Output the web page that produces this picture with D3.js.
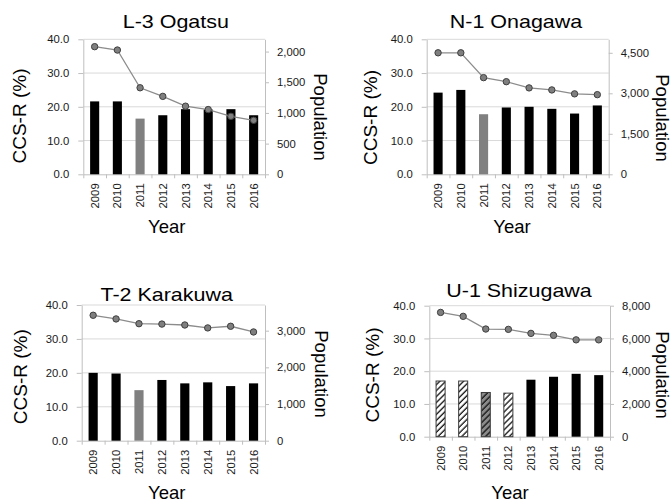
<!DOCTYPE html>
<html>
<head>
<meta charset="utf-8">
<script src="https://cdn.jsdelivr.net/npm/d3@7"></script>
<style>
  html, body { margin: 0; padding: 0; background: #fff; overflow: hidden; }
  svg { display: block; font-family: "Liberation Sans", Arial, sans-serif; font-weight: 400; }
</style>
</head>
<body>
<svg id="chart" width="672" height="503"></svg>
<script>
// ---------------- DATA ----------------
const years = ["2009", "2010", "2011", "2012", "2013", "2014", "2015", "2016"];
const panelTitles = ["L-3 Ogatsu", "N-1 Onagawa", "T-2 Karakuwa", "U-1 Shizugawa"];

const ogatsuCCS = [21.6, 21.6, 16.5, 17.5, 19.3, 19.2, 19.3, 17.5];
const ogatsuPop = [2080, 2025, 1410, 1270, 1110, 1055, 945, 880];
const ogatsuStatus = ["normal", "normal", "disaster", "normal", "normal", "normal", "normal", "normal"];

const onagawaCCS = [24.2, 25.0, 17.8, 19.8, 20.0, 19.4, 18.0, 20.4];
const onagawaPop = [4500, 4500, 3580, 3430, 3200, 3125, 2980, 2950];
const onagawaStatus = ["normal", "normal", "disaster", "normal", "normal", "normal", "normal", "normal"];

const karakuwaCCS = [20.0, 19.8, 14.9, 17.9, 16.9, 17.2, 16.1, 16.9];
const karakuwaPop = [3420, 3320, 3190, 3180, 3155, 3075, 3120, 2965];
const karakuwaStatus = ["normal", "normal", "disaster", "normal", "normal", "normal", "normal", "normal"];

const shizugawaCCS = [17.0, 17.0, 13.5, 13.3, 17.4, 18.3, 19.2, 18.8];
const shizugawaPop = [7590, 7350, 6575, 6555, 6310, 6190, 5915, 5915];
const shizugawaStatus = ["hatched", "hatched", "hatchedDisaster", "hatched", "normal", "normal", "normal", "normal"];

const ccsTicks = [0, 10, 20, 30, 40];
const popAxisMax = [2200, 5000, 3700, 8000];
const popTickStep = [500, 1500, 1000, 2000];

const axisTitles = { left: "CCS-R (%)", right: "Population", bottom: "Year" };

// ---------------- LAYOUT ----------------
const layout = [
  { x0: 83.3, x1: 265, y0: 39.3, y1: 174.3, tX: 175.8, tY: 27.5, lX: 19, lY: 116, rX: 320.5, rY: 117, bX: 166.7, bY: 233 },
  { x0: 426.7, x1: 608.7, y0: 39.3, y1: 174.3, tX: 516, tY: 27.5, lX: 370, lY: 117.5, rX: 662.5, rY: 118, bX: 512, bY: 233 },
  { x0: 81.7, x1: 265, y0: 305, y1: 440.7, tX: 166.7, tY: 300.7, lX: 20, lY: 376.7, rX: 321, rY: 374, bX: 166.7, bY: 498.5 },
  { x0: 429.3, x1: 610, y0: 305.7, y1: 436.7, tX: 519, tY: 296.7, lX: 372, lY: 375, rX: 662.5, rY: 375, bX: 510, bY: 498.5 }
];

const panels = [
  { ccs: ogatsuCCS, pop: ogatsuPop, status: ogatsuStatus },
  { ccs: onagawaCCS, pop: onagawaPop, status: onagawaStatus },
  { ccs: karakuwaCCS, pop: karakuwaPop, status: karakuwaStatus },
  { ccs: shizugawaCCS, pop: shizugawaPop, status: shizugawaStatus }
];

const svg = d3.select("#chart");

// hatch patterns
const defs = svg.append("defs");
function hatch(id, bg) {
  const p = defs.append("pattern").attr("id", id)
    .attr("patternUnits", "userSpaceOnUse").attr("width", 4.2).attr("height", 4.2)
    .attr("patternTransform", "rotate(45)");
  p.append("rect").attr("width", 4.2).attr("height", 4.2).attr("fill", bg);
  p.append("line").attr("x1", 1).attr("y1", 0).attr("x2", 1).attr("y2", 4.2)
    .attr("stroke", "#111").attr("stroke-width", 1.3);
}
hatch("hatchLight", "#ffffff");
hatch("hatchDark", "#8a8a8a");

const fillFor = { normal: "#000000", disaster: "#808080", hatched: "url(#hatchLight)", hatchedDisaster: "url(#hatchDark)" };
const strokeFor = { normal: "none", disaster: "none", hatched: "#3a3a3a", hatchedDisaster: "#3a3a3a" };

const gridColor = "#d9d9d9";
const axisColor = "#bfbfbf";
const tickFont = 11.3;

panels.forEach((pd, i) => {
  const L = layout[i];
  const g = svg.append("g");

  const x = d3.scaleBand().domain(years).range([L.x0, L.x1]).paddingInner(0.6).paddingOuter(0.3);
  const xb = d3.scaleLinear().domain([0, years.length]).range([L.x0, L.x1]);
  const y = d3.scaleLinear().domain([0, 40]).range([L.y1, L.y0]);
  const yp = d3.scaleLinear().domain([0, popAxisMax[i]]).range([L.y1, L.y0]);

  // gridlines
  g.append("g").selectAll("line").data(ccsTicks.filter(d => d > 0)).join("line")
    .attr("x1", L.x0).attr("x2", L.x1)
    .attr("y1", d => y(d)).attr("y2", d => y(d))
    .attr("stroke", gridColor).attr("stroke-width", 1);

  const la = g.append("g").attr("transform", `translate(${L.x0},0)`)
    .call(d3.axisLeft(y).tickValues(ccsTicks).tickFormat(d3.format(".1f")).tickSize(5).tickSizeOuter(0).tickPadding(9));
  const ra = g.append("g").attr("transform", `translate(${L.x1},0)`)
    .call(d3.axisRight(yp).tickValues(d3.range(0, popAxisMax[i] + 1, popTickStep[i])).tickFormat(d3.format(",")).tickSize(4).tickSizeOuter(0).tickPadding(8));
  const ba = g.append("g").attr("transform", `translate(0,${L.y1})`)
    .call(d3.axisBottom(xb).tickValues(d3.range(years.length + 1)).tickFormat("").tickSize(4).tickSizeOuter(0));
  const bl = g.append("g").attr("transform", `translate(0,${L.y1})`)
    .call(d3.axisBottom(x).tickSize(0));
  bl.select(".domain").remove();
  bl.selectAll("text")
    .attr("transform", "rotate(-90)")
    .attr("x", -9).attr("y", 0).attr("dy", "0.36em")
    .style("text-anchor", "end");

  [la, ra, ba].forEach(a => {
    a.select(".domain").attr("stroke", axisColor).attr("stroke-width", 1);
    a.selectAll(".tick line").attr("stroke", axisColor);
  });
  [la, ra, bl].forEach(a => {
    a.selectAll("text").attr("fill", "#1a1a1a").style("font-size", tickFont + "px")
      .style("font-family", '"Liberation Sans", Arial, sans-serif');
  });

  // bars
  g.append("g").selectAll("rect").data(years).join("rect")
    .attr("x", d => x(d))
    .attr("width", x.bandwidth())
    .attr("y", (d, j) => y(pd.ccs[j]))
    .attr("height", (d, j) => y(0) - y(pd.ccs[j]))
    .attr("fill", (d, j) => fillFor[pd.status[j]])
    .attr("stroke", (d, j) => strokeFor[pd.status[j]])
    .attr("stroke-width", 1);

  // population line
  const line = d3.line()
    .x((d, j) => x(years[j]) + x.bandwidth() / 2)
    .y(d => yp(d));
  g.append("path").datum(pd.pop).attr("d", line)
    .attr("fill", "none").attr("stroke", "#8c8c8c").attr("stroke-width", 1.3);
  g.append("g").selectAll("circle").data(pd.pop).join("circle")
    .attr("cx", (d, j) => x(years[j]) + x.bandwidth() / 2)
    .attr("cy", d => yp(d))
    .attr("r", 3.2)
    .attr("fill", "#7f7f7f").attr("stroke", "#3f3f3f").attr("stroke-width", 1);

  // titles
  g.append("text").attr("transform", `translate(${L.tX},${L.tY}) scale(1.18,1)`)
    .attr("text-anchor", "middle").style("font-size", "18.2px").style("font-weight", "400").attr("fill", "#000")
    .text(panelTitles[i]);
  g.append("text").attr("transform", `translate(${L.lX},${L.lY}) rotate(-90)`)
    .attr("text-anchor", "middle").attr("dominant-baseline", "central")
    .style("font-size", "19px").attr("fill", "#000").text(axisTitles.left);
  g.append("text").attr("transform", `translate(${L.rX},${L.rY}) rotate(90)`)
    .attr("text-anchor", "middle").attr("dominant-baseline", "central")
    .style("font-size", "18.5px").attr("fill", "#000").text(axisTitles.right);
  g.append("text").attr("x", L.bX).attr("y", L.bY)
    .attr("text-anchor", "middle").style("font-size", "18.5px").attr("fill", "#000")
    .text(axisTitles.bottom);
});
</script>
</body>
</html>
